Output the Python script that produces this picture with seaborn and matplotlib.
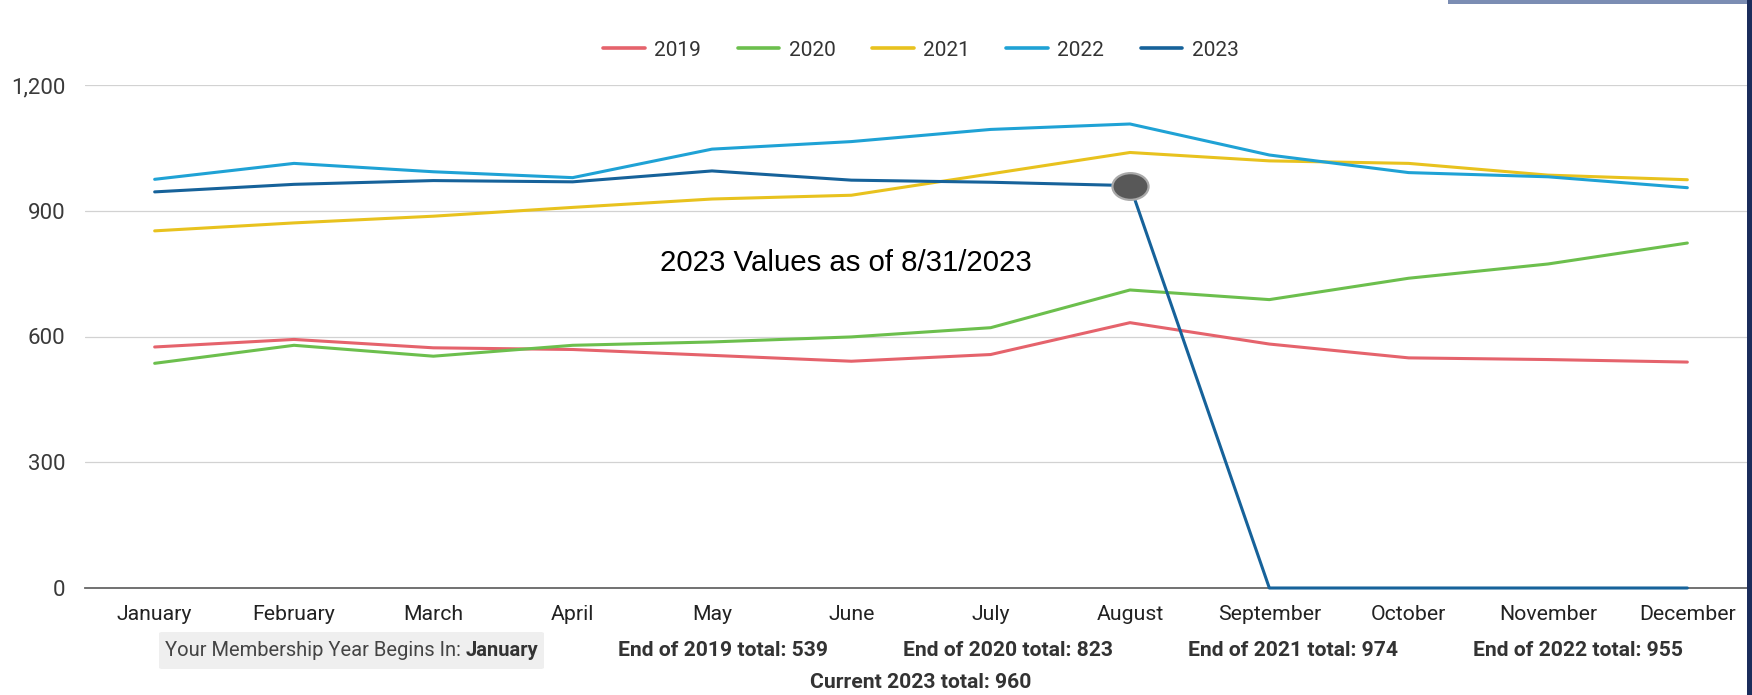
import numpy as np
import pandas as pd
import matplotlib
matplotlib.use("Agg")
import matplotlib.pyplot as plt
from matplotlib.lines import Line2D
from matplotlib.path import Path
from matplotlib.patches import FancyBboxPatch, Rectangle
import seaborn as sns

# ---------------- data ----------------
months = ["January", "February", "March", "April", "May", "June",
          "July", "August", "September", "October", "November", "December"]
years = ["2019", "2020", "2021", "2022", "2023"]
v2019 = [575, 593, 573, 569, 555, 541, 557, 633, 582, 549, 545, 539]
v2020 = [536, 579, 553, 579, 587, 599, 621, 711, 688, 739, 773, 823]
v2021 = [852, 871, 887, 908, 928, 937, 988, 1039, 1019, 1013, 985, 974]
v2022 = [975, 1013, 993, 979, 1047, 1065, 1094, 1107, 1033, 991, 981, 955]
v2023 = [945, 963, 972, 969, 995, 973, 968, 960, 0, 0, 0, 0]
colors = {"2019": "#e5636c", "2020": "#6cbf4d", "2021": "#e8c21e",
          "2022": "#1fa2d5", "2023": "#16629a"}
yticks = [0, 300, 600, 900, 1200]
as_of_month = "August"
annotation = "2023 Values as of 8/31/2023"
totals_row = ["End of 2019 total: 539", "End of 2020 total: 823",
              "End of 2021 total: 974", "End of 2022 total: 955"]
current_total = "Current 2023 total: 960"
membership_label = "Your Membership Year Begins In: "
membership_month = "January"

series = {"2019": v2019, "2020": v2020, "2021": v2021, "2022": v2022, "2023": v2023}
df = pd.DataFrame([
    {"month_idx": i, "month": m, "year": y, "value": series[y][i]}
    for y in years for i, m in enumerate(months)
])

# ---------------- style ----------------
sns.set_style("white")
plt.rcParams["font.family"] = ["Roboto", "DejaVu Sans"]

W, H = 1752, 695
fig = plt.figure(figsize=(W / 100, H / 100), dpi=100)
ax_l, ax_r, ax_t, ax_b = 85, 1757, 85, 588
ax = fig.add_axes([ax_l / W, 1 - ax_b / H, (ax_r - ax_l) / W, (ax_b - ax_t) / H])

sns.lineplot(data=df, x="month_idx", y="value", hue="year", hue_order=years,
             palette=colors, linewidth=2.2, legend=False, ax=ax, zorder=3,
             estimator=None, sort=False)
for ln in ax.lines:
    ln.set_clip_on(False)

ax.set_xlim(-0.5, len(months) - 0.5)
ax.set_ylim(0, 1200)
ax.set_yticks(yticks)
ax.set_yticklabels([f"{t:,}" for t in yticks])
ax.set_xticks(range(len(months)))
ax.set_xticklabels(months)
ax.set_xlabel("")
ax.set_ylabel("")
ax.grid(axis="y", color="#d2d2d2", linewidth=0.9)
ax.set_axisbelow(True)
for s in ["left", "right", "top"]:
    ax.spines[s].set_visible(False)
ax.spines["bottom"].set_color("#666666")
ax.spines["bottom"].set_linewidth(1.3)
ax.spines["bottom"].set_zorder(2)
ax.tick_params(axis="y", length=0, pad=14, labelsize=16, labelcolor="#3a3a3a")
ax.tick_params(axis="x", length=0, pad=12, labelsize=15.3, labelcolor="#222222")

# ellipse marker at last reported 2023 value
circ = Path.unit_circle()
ell = Path(circ.vertices * np.array([1.0, 0.74]), circ.codes)
mi = months.index(as_of_month)
ax.plot([mi], [v2023[mi]], linestyle="none", marker=ell, markersize=26,
        markerfacecolor="#585858", markeredgecolor="#a9a9a9",
        markeredgewidth=1.6, zorder=5, clip_on=False)

# annotation
ax.text(4.96, 776, annotation, ha="center", va="center", fontsize=21.2,
        family=["Liberation Sans", "DejaVu Sans"], color="#000000", zorder=6)

# legend
handles = [Line2D([0], [0], color=colors[y], linewidth=2.6) for y in years]
ax.legend(handles, years, loc="center", bbox_to_anchor=(0.5, (ax_b - 50) / (ax_b - ax_t)),
          ncol=5, frameon=False, fontsize=15, handlelength=2.0,
          handletextpad=0.45, columnspacing=1.75, labelcolor="#333333")

# bottom info rows
def fx(px):
    return px / W

def fy(py):
    return 1 - py / H

box = FancyBboxPatch((fx(159), fy(669)), (544 - 159) / W, 37 / H,
                     boxstyle="round,pad=0.0,rounding_size=0.002",
                     transform=fig.transFigure, facecolor="#efefef",
                     edgecolor="none", zorder=0)
fig.patches.append(box)
t1 = fig.text(fx(165), fy(651), membership_label, ha="left", va="center",
              fontsize=14.5, color="#444444")
fig.canvas.draw()
bb = t1.get_window_extent(renderer=fig.canvas.get_renderer())
fig.text(bb.x1 / W, fy(651), membership_month, ha="left", va="center",
         fontsize=14.5, fontweight="bold", color="#333333")

for i, lab in enumerate(totals_row):
    fig.text(fx(723 + 285 * i), fy(651), lab, ha="center", va="center",
             fontsize=15.2, fontweight="bold", color="#333333")
fig.text(fx(921), fy(683), current_total, ha="center", va="center",
         fontsize=15.2, fontweight="bold", color="#333333")

# right-hand frame decoration
fig.patches.append(Rectangle((fx(1747), 0), 5 / W, 1, transform=fig.transFigure,
                             facecolor="#1b2d5c", edgecolor="none", zorder=10))
fig.patches.append(Rectangle((fx(1448), fy(4)), 299 / W, 4 / H, transform=fig.transFigure,
                             facecolor="#7b8db3", edgecolor="none", zorder=10))

fig.savefig("out.png", dpi=100)
